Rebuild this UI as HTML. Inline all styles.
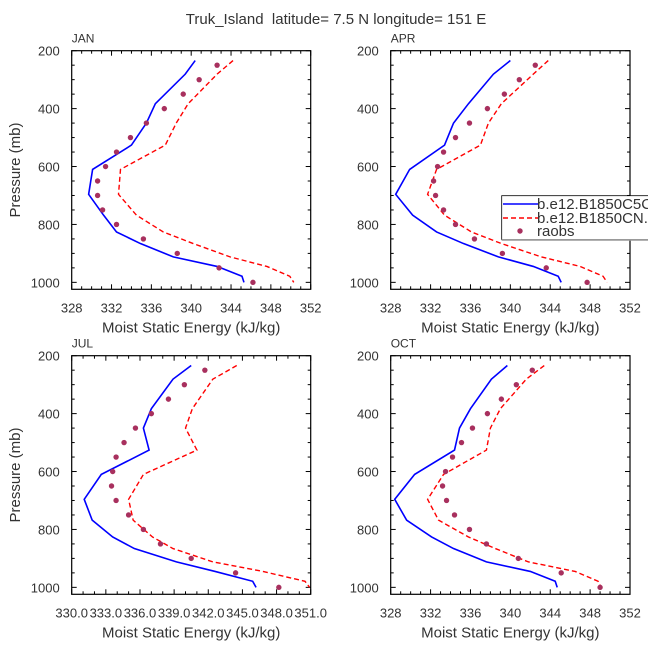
<!DOCTYPE html>
<html><head><meta charset="utf-8">
<style>
html,body{margin:0;padding:0;background:#fff;}
svg{display:block;font-family:"Liberation Sans",sans-serif;}
text{fill:#333;}
</style></head>
<body>
<svg id="chart" width="648" height="649" viewBox="0 0 648 649" xmlns="http://www.w3.org/2000/svg">
<text x="336" y="24" font-size="15" text-anchor="middle" xml:space="preserve">Truk_Island  latitude= 7.5 N longitude= 151 E</text>
</svg>
<script>
const modelLevels = [234, 281, 383, 450, 526, 610, 696, 768, 826, 866, 912, 945, 979, 1000];
const obsLevels = [250,300,350,400,450,500,550,600,650,700,750,800,850,900,950,1000];
const panelNames = ["JAN","APR","JUL","OCT"];
const blueJAN = [340.4,339.4,336.4,335.5,334.0,330.1,329.7,331.2,332.5,334.9,338.2,342.6,345.1,345.3];
const redJAN  = [344.2,342.6,339.7,338.5,337.4,332.9,332.7,334.5,337.2,340.2,343.9,347.6,349.9,350.3];
const obsJAN  = [342.6,340.8,339.2,337.3,335.5,333.9,332.5,331.4,330.6,330.6,331.1,332.5,335.2,338.6,342.8,346.2];
const blueAPR = [340.0,338.3,335.8,334.3,333.4,329.9,328.5,330.2,332.6,335.3,338.8,342.3,344.8,345.1];
const redAPR  = [343.8,342.3,339.1,337.8,337.0,332.6,331.7,333.4,336.1,339.1,343.1,347.0,349.3,349.7];
const obsAPR  = [342.5,340.9,339.4,337.7,335.9,334.5,333.3,332.7,332.3,332.5,333.3,334.5,336.4,339.2,343.6,347.7];
const blueJUL = [340.5,338.9,337.0,336.3,336.8,332.6,331.1,331.8,333.6,335.5,339.2,342.6,345.9,346.2];
const redJUL  = [344.5,342.4,340.6,340.0,341.0,336.3,335.0,335.4,337.1,338.9,342.4,346.8,350.5,350.9];
const obsJUL  = [341.7,339.9,338.5,337.0,335.6,334.6,333.9,333.6,333.5,333.9,335.0,336.3,337.8,340.5,344.4,348.2];
const blueOCT = [339.7,338.1,336.0,334.9,334.4,330.4,328.4,329.6,332.1,334.3,337.6,342.0,344.5,344.7];
const redOCT  = [343.4,341.6,339.0,338.0,337.6,333.3,331.7,332.8,335.8,338.5,341.8,346.5,348.8,349.1];
const obsOCT  = [342.2,340.6,339.1,337.7,336.2,335.1,334.2,333.5,333.2,333.6,334.4,335.9,337.6,340.8,345.1,349.0];
const xTicksStd = [328,332,336,340,344,348,352];
const xTicksJUL = [330,333,336,339,342,345,348,351];
const xTickLabelsJUL = ["330.0","333.0","336.0","339.0","342.0","345.0","348.0","351.0"];
const yTicks = [200,400,600,800,1000];

const NS="http://www.w3.org/2000/svg";
const svg=document.getElementById('chart');
function mk(tag,attrs,parent){const e=document.createElementNS(NS,tag);for(const k in attrs)e.setAttribute(k,attrs[k]);(parent||svg).appendChild(e);return e;}

const panels=[
 {name:"JAN",x0:71.7,x1:310.7,y0:50.7,y1:289.3,xmin:328,xmax:352,xt:xTicksStd,xl:null,minor:1,blue:blueJAN,red:redJAN,obs:obsJAN,ytitle:true},
 {name:"APR",x0:390.7,x1:630,y0:50.7,y1:289.3,xmin:328,xmax:352,xt:xTicksStd,xl:null,minor:1,blue:blueAPR,red:redAPR,obs:obsAPR,ytitle:false},
 {name:"JUL",x0:71.7,x1:310.7,y0:355.7,y1:594.3,xmin:330,xmax:351,xt:xTicksJUL,xl:xTickLabelsJUL,minor:1,blue:blueJUL,red:redJUL,obs:obsJUL,ytitle:true},
 {name:"OCT",x0:390.7,x1:630,y0:355.7,y1:594.3,xmin:328,xmax:352,xt:xTicksStd,xl:null,minor:1,blue:blueOCT,red:redOCT,obs:obsOCT,ytitle:false}
];
const PMIN=200,PMAX=1024;

panels.forEach(p=>{
  const g=mk('g',{});
  
  
  const sx=v=>p.x0+(v-p.xmin)/(p.xmax-p.xmin)*(p.x1-p.x0);
  const sy=v=>p.y0+(v-PMIN)/(PMAX-PMIN)*(p.y1-p.y0);
  const lbl=mk('text',{x:p.x0,y:p.y0-8,'font-size':12},g);
  lbl.textContent=p.name;
  
  
  const tk=mk('g',{stroke:'#000','stroke-width':1},g);
  
  
  for(let v=p.xmin;v<=p.xmax+1e-6;v+=p.minor){
    const major=p.xt.some(t=>Math.abs(t-v)<1e-6);
    const L=major?5:3;const x=sx(v);
    mk('line',{x1:x,x2:x,y1:p.y1,y2:p.y1-L},tk);
    mk('line',{x1:x,x2:x,y1:p.y0,y2:p.y0+L},tk);
  }
  for(let v=PMIN;v<=1000;v+=50){
    const major=yTicks.includes(v);const L=major?5:3;const y=sy(v);
    mk('line',{x1:p.x0,x2:p.x0+L,y1:y,y2:y},tk);
    mk('line',{x1:p.x1,x2:p.x1-L,y1:y,y2:y},tk);
  }
  p.xt.forEach((t,i)=>{
    const e=mk('text',{x:sx(t),y:p.y1+23,'font-size':13,'text-anchor':'middle'},g);
    e.textContent=p.xl?p.xl[i]:String(t);
    
    
  });
  yTicks.forEach(t=>{
    const e=mk('text',{x:p.x0-12,y:sy(t)+5,'font-size':13,'text-anchor':'end'},g);
    e.textContent=String(t);
    
    
  });
  const xt=mk('text',{x:(p.x0+p.x1)/2,y:p.y1+43,'font-size':15,'text-anchor':'middle'},g);
  xt.textContent="Moist Static Energy (kJ/kg)";
  
  
  if(p.ytitle){
    const cy=(p.y0+p.y1)/2;
    const yt=mk('text',{x:20,y:cy,'font-size':15,'text-anchor':'middle',transform:`rotate(-90 20 ${cy})`},g);
    yt.textContent="Pressure (mb)";
    
    
  }
  const bl=mk('polyline',{points:modelLevels.map((l,i)=>sx(p.blue[i])+','+sy(l)).join(' '),fill:'none',stroke:'#0000ff','stroke-width':1.6},g);
  
  
  const rl=mk('polyline',{points:modelLevels.map((l,i)=>sx(p.red[i])+','+sy(l)).join(' '),fill:'none',stroke:'#ff0000','stroke-width':1.4,'stroke-dasharray':'5,3'},g);
  
  
  obsLevels.forEach((l,i)=>{
    const c=mk('circle',{cx:sx(p.obs[i]),cy:sy(l),r:2.7,fill:'#a8305e'},g);
    
    
  });
  const fr=mk('rect',{x:p.x0,y:p.y0,width:p.x1-p.x0,height:p.y1-p.y0,fill:'none',stroke:'#000','stroke-width':1.2},g);
  
  
});

const lg=mk('g',{});


mk('rect',{x:501.7,y:195.7,width:160,height:44,fill:'#fff',stroke:'#000','stroke-width':0.8},lg);
mk('line',{x1:501.7,x2:648,y1:240,y2:240,stroke:'#999','stroke-width':1.5},lg);
const l1=mk('line',{x1:503,x2:538,y1:204,y2:204,stroke:'#0000ff','stroke-width':1.6},lg);


const t1=mk('text',{x:537,y:209,'font-size':15},lg);t1.textContent="b.e12.B1850C5CN";
const l2=mk('line',{x1:503,x2:538,y1:218,y2:218,stroke:'#ff0000','stroke-width':1.4,'stroke-dasharray':'5,3'},lg);


const t2=mk('text',{x:537,y:223,'font-size':15},lg);t2.textContent="b.e12.B1850CN.f19";
const c3=mk('circle',{cx:520,cy:231,r:2.7,fill:'#a8305e'},lg);


const t3=mk('text',{x:537,y:236,'font-size':15},lg);t3.textContent="raobs";
</script>
</body></html>
